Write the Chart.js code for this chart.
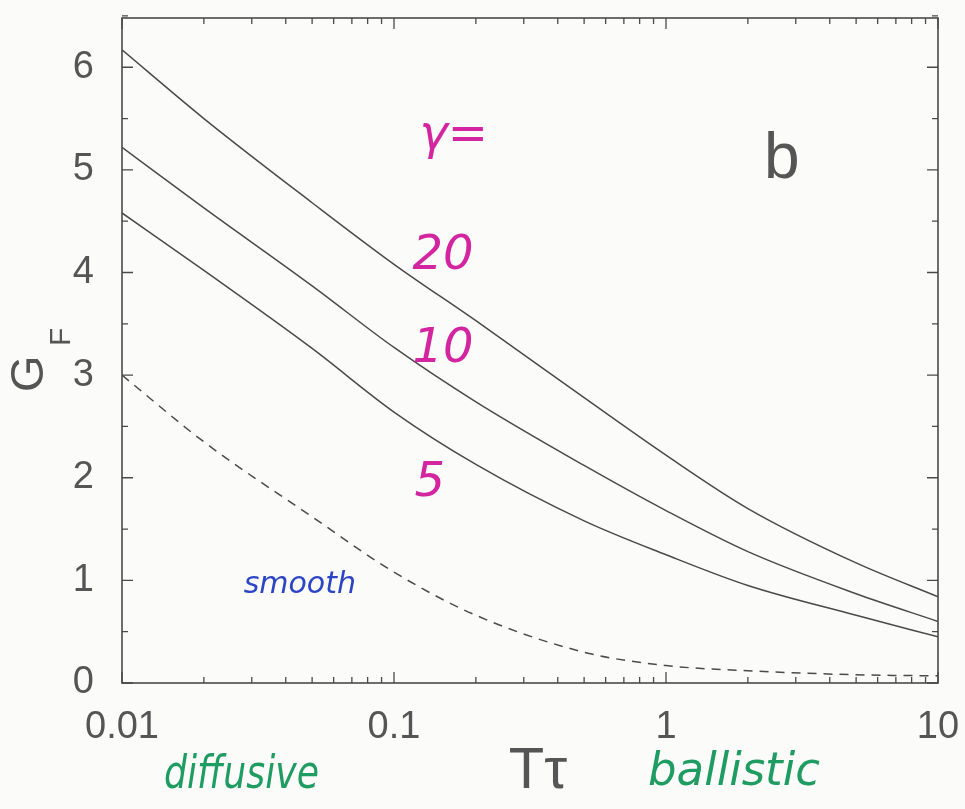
<!DOCTYPE html>
<html>
<head>
<meta charset="utf-8">
<script src="https://cdn.jsdelivr.net/npm/chart.js@4"></script>
<style>
  html, body { margin: 0; padding: 0; background: #fbfbfa; }
  #wrap { width: 965px; height: 809px; }
</style>
</head>
<body>
<div id="wrap"><canvas id="c" width="965" height="809"></canvas></div>
<script>
// T*tau values and G_F
var tau    = [0.01, 0.02, 0.05, 0.1, 0.2, 0.5, 1, 2, 5, 10];
var gam20  = [6.17, 5.50, 4.68, 4.08, 3.53, 2.78, 2.22, 1.70, 1.17, 0.84];
var gam10  = [5.22, 4.63, 3.87, 3.27, 2.74, 2.12, 1.68, 1.28, 0.87, 0.60];
var gam5   = [4.58, 4.02, 3.26, 2.64, 2.13, 1.58, 1.25, 0.95, 0.66, 0.45];
var smooth = [3.00, 2.35, 1.62, 1.08, 0.66, 0.30, 0.17, 0.12, 0.08, 0.07];

var xTicks = [0.01, 0.1, 1, 10];
var yTicks = [0, 1, 2, 3, 4, 5, 6];

var ink = '#4a4a4a';
var magenta = '#d3259f';
var green = '#1f9c62';
var blue = '#2c45c4';
function handFont(s) { return 'italic ' + s + 'px "DejaVu Sans", sans-serif'; }

function pts(ys) {
    return tau.map(function (t, i) { return { x: t, y: ys[i] }; });
}

// labels placed in data coordinates
var notes = [
    { text: 'γ=', x: 0.124, y: 5.20, color: magenta, size: 48 },
    { text: '20', x: 0.117, y: 4.03, color: magenta, size: 48 },
    { text: '10', x: 0.117, y: 3.13, color: magenta, size: 48 },
    { text: '5',  x: 0.119, y: 1.82, color: magenta, size: 48 },
    { text: 'smooth', x: 0.028, y: 0.88, color: blue, size: 30 }
];

var frame = {
    id: 'frame',
    afterDraw: function (chart) {
        var c = chart.ctx, a = chart.chartArea;
        var xs = chart.scales.x, ys = chart.scales.y;
        c.save();
        c.strokeStyle = ink;
        c.lineWidth = 1.6;
        c.strokeRect(a.left, a.top, a.right - a.left, a.bottom - a.top);
        c.lineWidth = 1.3;
        c.beginPath();
        // x ticks, inward on bottom and top
        for (var d = 0.01; d < 10; d *= 10) {
            for (var m = 1; m <= 10; m++) {
                var px = xs.getPixelForValue(d * m);
                var len = (m === 1 || m === 10) ? 11 : 6;
                c.moveTo(px, a.bottom); c.lineTo(px, a.bottom - len);
                c.moveTo(px, a.top); c.lineTo(px, a.top + len);
            }
        }
        // y ticks, inward on left and right
        for (var k = 0; k <= 6.5; k += 0.5) {
            var py = ys.getPixelForValue(k);
            var l2 = (k % 1 === 0) ? 11 : 6;
            c.moveTo(a.left, py); c.lineTo(a.left + l2, py);
            c.moveTo(a.right, py); c.lineTo(a.right - l2, py);
        }
        c.stroke();

        // handwritten notes
        c.textAlign = 'left';
        c.textBaseline = 'alphabetic';
        notes.forEach(function (n) {
            c.fillStyle = n.color;
            c.font = handFont(n.size);
            c.fillText(n.text, xs.getPixelForValue(n.x), ys.getPixelForValue(n.y));
        });

        // panel letter
        c.fillStyle = '#555';
        c.font = '64px "Liberation Sans", Arial, sans-serif';
        c.fillText('b', xs.getPixelForValue(2.29), ys.getPixelForValue(4.92));

        // axis titles
        c.font = '58px "Liberation Sans", Arial, sans-serif';
        c.textAlign = 'center';
        c.fillText('Tτ', 538, 788);

        c.save();
        c.translate(43, 392);
        c.rotate(-Math.PI / 2);
        c.textAlign = 'left';
        c.font = '47px "Liberation Sans", Arial, sans-serif';
        c.fillText('G', 0, 0);
        c.font = '30px "Liberation Sans", Arial, sans-serif';
        c.fillText('F', 46, 27);
        c.restore();

        c.fillStyle = green;
        c.font = handFont(46);
        c.textAlign = 'left';
        c.fillText('diffusive', 164, 788, 155);
        c.fillText('ballistic', 648, 785, 172);
        c.restore();
    }
};

var ctx = document.getElementById('c');
var chart = new Chart(ctx, {
    type: 'line',
    data: {
        datasets: [
            { label: 'γ=20', data: pts(gam20) },
            { label: 'γ=10', data: pts(gam10) },
            { label: 'γ=5', data: pts(gam5) },
            { label: 'smooth', data: pts(smooth), borderDash: [9, 7] }
        ]
    },
    options: {
        responsive: false,
        animation: false,
        devicePixelRatio: 1,
        layout: { padding: { left: 0, right: 27, top: 18, bottom: 0 } },
        elements: {
            line: { borderColor: ink, borderWidth: 1.5, cubicInterpolationMode: 'monotone', fill: false },
            point: { radius: 0 }
        },
        plugins: {
            legend: { display: false },
            tooltip: { enabled: false }
        },
        scales: {
            x: {
                type: 'logarithmic',
                min: 0.01,
                max: 10,
                grid: { display: false },
                border: { display: false },
                afterFit: function (s) { s.height = 126; s.paddingLeft = 0; s.paddingRight = 0; },
                afterBuildTicks: function (s) {
                    s.ticks = xTicks.map(function (v) { return { value: v }; });
                },
                ticks: {
                    autoSkip: false,
                    maxRotation: 0,
                    padding: 14,
                    color: '#555',
                    font: { family: '"Liberation Sans", Arial, sans-serif', size: 38 },
                    callback: function (v) { return String(v); }
                }
            },
            y: {
                min: 0,
                max: 6.48,
                grid: { display: false },
                border: { display: false },
                afterFit: function (s) { s.width = 122; s.paddingTop = 0; s.paddingBottom = 0; },
                afterBuildTicks: function (s) {
                    s.ticks = yTicks.map(function (v) { return { value: v }; });
                },
                ticks: {
                    padding: 20,
                    color: '#555',
                    font: { family: '"Liberation Sans", Arial, sans-serif', size: 38 }
                }
            }
        }
    },
    plugins: [frame]
});
</script>
</body>
</html>
